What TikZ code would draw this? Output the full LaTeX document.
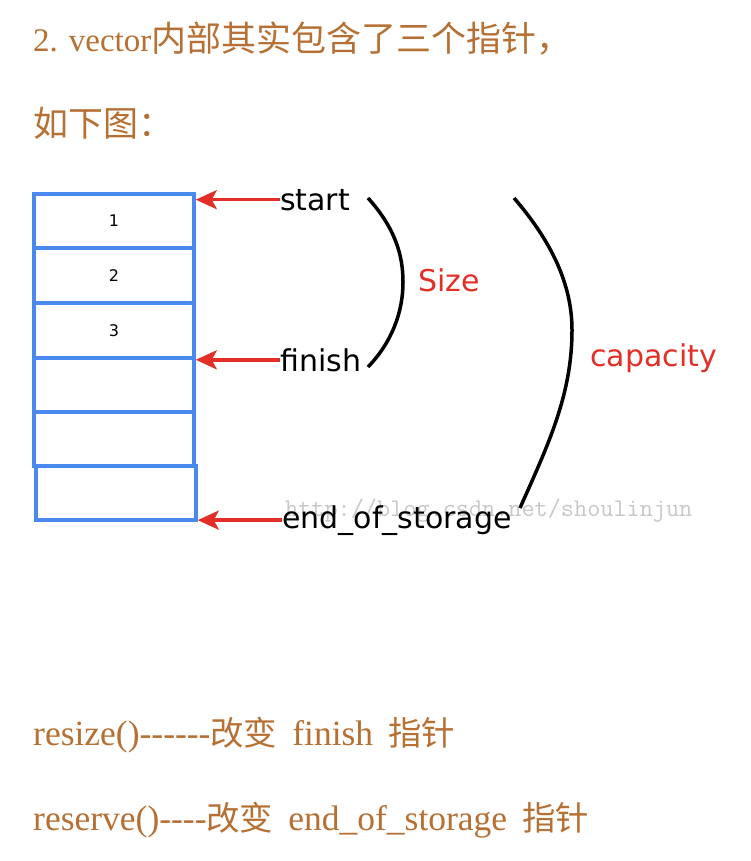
\documentclass[tikz,border=0pt]{standalone}
\usepackage{fontspec}
\usepackage{xcolor}
\usetikzlibrary{arrows.meta}
\setmainfont[Ligatures=TeXOff]{Liberation Serif}
\newfontfamily\cjk[Scale=1.06]{Noto Sans CJK SC}
\newfontfamily\labelfont{DejaVu Sans}
\newcommand\zhsmall[1]{{\cjk\fontsize{31.5}{40}\selectfont #1}}
\newcommand\fnfont{\fontsize{35.5}{40}\selectfont\spaceskip 15pt\relax}
\definecolor{textbrown}{RGB}{183,112,52}
\definecolor{cellblue}{RGB}{74,138,238}
\definecolor{ptrred}{RGB}{226,48,40}
\definecolor{markgray}{RGB}{200,200,200}
\tikzset{
  heading/.style={anchor=base west, inner sep=0pt, text=textbrown, font=\fontsize{33}{40}\selectfont},
  fnline/.style={heading, font=\fnfont},
  cell/.style={draw=cellblue, line width=3.5pt, minimum width=160pt, minimum height=54pt, inner sep=0pt, font=\labelfont\fontsize{16}{18}\selectfont},
  ptrlabel/.style={anchor=base west, inner sep=0pt, font=\labelfont\fontsize{30}{36}\selectfont},
  ptrarrow/.style={draw=ptrred, line width=3.5pt, -{Stealth[length=21pt,width=19pt,inset=5pt,fill=ptrred]}},
  bracecurve/.style={draw=black, line width=3.5pt},
  note/.style={anchor=west, inner sep=0pt, text=ptrred, font=\labelfont\fontsize{30}{36}\selectfont}
}
\begin{document}
\begin{tikzpicture}[x=1pt, y=-1pt]
  \useasboundingbox[fill=white] (0,0) rectangle (750,861);

  % Texto
  \node[heading] (title) at (33,52) {2. vector{\cjk 内部其实包含了三个指针，}};
  \node[heading] (below) at (33,137) {\cjk 如下图：};

  % Celulas
  \node[cell] (c1) at (114,221) {1};
  \node[cell] (c2) at (114,275.5) {2};
  \node[cell] (c3) at (114,330.5) {3};
  \node[cell] (c4) at (114,385) {};
  \node[cell] (c5) at (114,439) {};
  \node[cell] (c6) at (116,493) {};

  % Marca
  \node[anchor=base west, inner sep=0pt, text=markgray, font=\ttfamily\fontsize{25.5}{28}\selectfont] (mark) at (285,516) {http://blog.csdn.net/shoulinjun};

  % Ponteiros
  \node[ptrlabel] (start) at (280,210) {start};
  \node[ptrlabel] (finish) at (280,371) {finish};
  \node[ptrlabel] (eos) at (282,528) {end\_of\_storage};
  \draw[ptrarrow] (start.west) -- (start.west -| c1.east);
  \draw[ptrarrow] (finish.west) -- (finish.west -| c4.east);
  \draw[ptrarrow] (eos.west) -- (eos.west -| c6.east);

  % Chaves
  \draw[bracecurve] (368,198) .. controls (395,228) and (403,255) .. (403,282)
    .. controls (403,312) and (392,342) .. (368,367);
  \draw[bracecurve] (514,198) .. controls (552,242) and (572,285) .. (572,330)
    .. controls (572,395) and (548,445) .. (520,508);
  \node[note] (size) at (418,280) {Size};
  \node[note] (cap) at (590,358) {capacity};

  % Funcoes
  \node[fnline] (resize) at (33,745) {resize()------\zhsmall{改变} finish \zhsmall{指针}};
  \node[fnline] (reserve) at (33,830) {reserve()----\zhsmall{改变} end\_of\_storage \zhsmall{指针}};
\end{tikzpicture}
\end{document}
